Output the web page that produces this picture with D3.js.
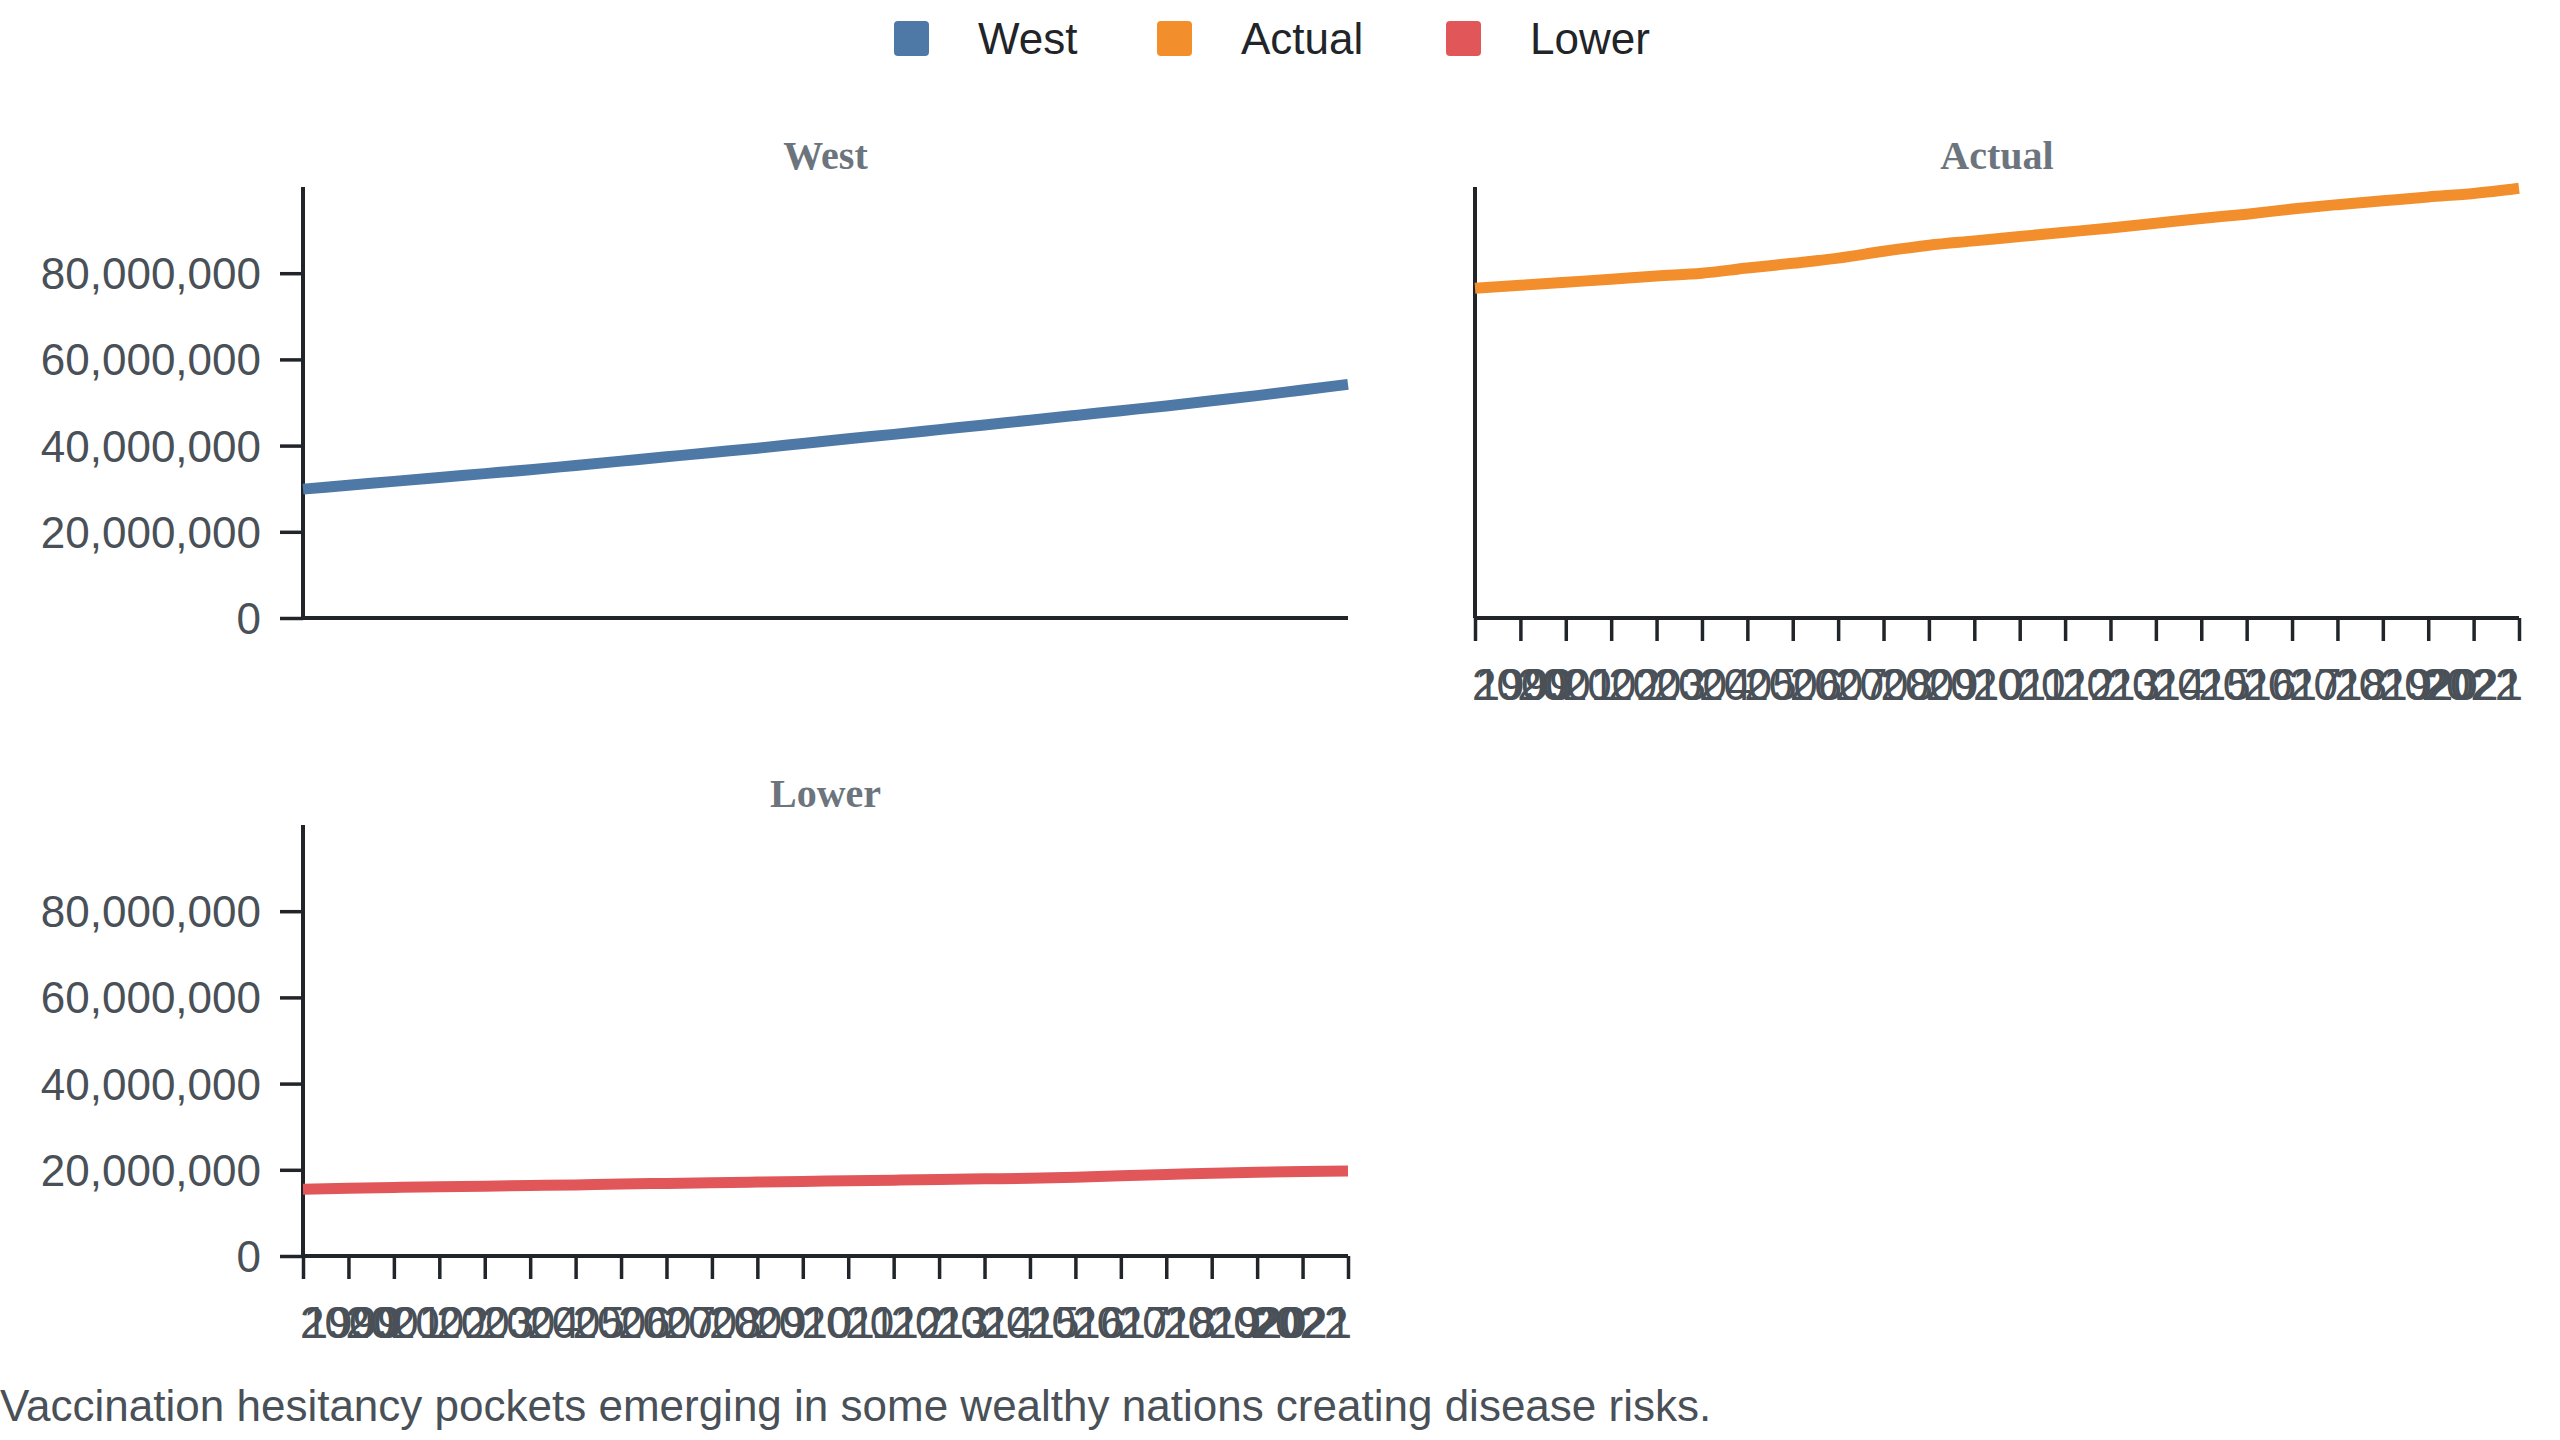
<!DOCTYPE html>
<html>
<head>
<meta charset="utf-8">
<script src="https://cdn.jsdelivr.net/npm/d3@7"></script>
<style>
  html, body { margin: 0; padding: 0; background: #fff; }
  svg { display: block; }
</style>
</head>
<body>
<div id="canvas"></div>
<script>
// chart data (values in people)
var years = [1999, 2000, 2001, 2002, 2003, 2004, 2005, 2006, 2007, 2008, 2009, 2010,
             2011, 2012, 2013, 2014, 2015, 2016, 2017, 2018, 2019, 2020, 2021, 2022];
var seriesNames = ['West', 'Actual', 'Lower'];
var seriesColors = ['#4e79a7', '#f28e2b', '#e15759'];
var westValues = [29.9, 30.8, 31.7, 32.6, 33.5, 34.4, 35.4, 36.4, 37.4, 38.4, 39.4, 40.5,
                  41.6, 42.6, 43.7, 44.8, 45.9, 47.0, 48.1, 49.2, 50.4, 51.6, 52.9, 54.2];
var actualValues = [76.5, 77.2, 77.9, 78.6, 79.35, 80.0, 81.2, 82.3, 83.5, 85.1, 86.5, 87.5,
                    88.5, 89.5, 90.5, 91.6, 92.7, 93.7, 94.9, 95.9, 96.8, 97.7, 98.5, 99.7];
var lowerValues = [15.5, 15.7, 15.9, 16.05, 16.2, 16.35, 16.5, 16.7, 16.85, 17.0, 17.15, 17.3,
                   17.45, 17.6, 17.75, 17.9, 18.05, 18.3, 18.6, 18.9, 19.2, 19.45, 19.6, 19.7];
var yTicks = [0, 20000000, 40000000, 60000000, 80000000];
var caption = 'Vaccination hesitancy pockets emerging in some wealthy nations creating disease risks.';

(function () {
  var width = 2560;
  var height = 1440;
  var axisColor = '#212529';
  var labelColor = '#495057';
  var titleColor = '#6c757d';

  var svg = d3.select('#canvas').append('svg')
        .attr('width', width)
        .attr('height', height);

  var toPeople = function (v) { return v * 1000000; };

  // one panel per series, wrapped two per row
  var panels = [
    { name: seriesNames[0], color: seriesColors[0], values: westValues.map(toPeople),
      x0: 303, x1: 1348, top: 187, bottom: 618, yLabels: true, xLabels: false },
    { name: seriesNames[1], color: seriesColors[1], values: actualValues.map(toPeople),
      x0: 1475, x1: 2519, top: 187, bottom: 618, yLabels: false, xLabels: true },
    { name: seriesNames[2], color: seriesColors[2], values: lowerValues.map(toPeople),
      x0: 303, x1: 1348, top: 825, bottom: 1256, yLabels: true, xLabels: true }
  ];

  var fmt = d3.format(',');

  panels.forEach(function (p) {
    var x = d3.scalePoint()
          .domain(years)
          .range([p.x0, p.x1]);

    var y = d3.scaleLinear()
          .domain([0, 100000000])
          .range([p.bottom, p.top]);

    var g = svg.append('g');

    // title
    g.append('text')
      .attr('x', (p.x0 + p.x1) / 2)
      .attr('y', p.top - 18)
      .attr('text-anchor', 'middle')
      .style('font-family', '"Liberation Serif", "Times New Roman", serif')
      .style('font-weight', 'bold')
      .style('font-size', '40px')
      .style('fill', titleColor)
      .text(p.name);

    // y axis
    var yAxis = g.append('g')
          .attr('transform', 'translate(' + p.x0 + ',0)')
          .call(d3.axisLeft(y)
                .tickValues(p.yLabels ? yTicks : [])
                .tickSize(23)
                .tickPadding(19)
                .tickFormat(fmt));
    yAxis.select('.domain')
      .attr('d', 'M0,' + p.top + 'V' + p.bottom)
      .attr('stroke', axisColor)
      .attr('stroke-width', 4);
    yAxis.selectAll('.tick line')
      .attr('stroke', axisColor)
      .attr('stroke-width', 3.5);
    yAxis.selectAll('.tick text')
      .attr('dy', '0.35em')
      .style('font-family', '"Liberation Sans", Arial, sans-serif')
      .style('font-size', '44px')
      .style('fill', labelColor);

    // x axis
    var xAxis = g.append('g')
          .attr('transform', 'translate(0,' + p.bottom + ')')
          .call(d3.axisBottom(x)
                .tickValues(p.xLabels ? years : [])
                .tickSize(23)
                .tickPadding(28));
    xAxis.select('.domain')
      .attr('d', 'M' + p.x0 + ',0H' + p.x1)
      .attr('stroke', axisColor)
      .attr('stroke-width', 4);
    xAxis.selectAll('.tick line')
      .attr('stroke', axisColor)
      .attr('stroke-width', 3.5);
    xAxis.selectAll('.tick text')
      .attr('dy', '0.71em')
      .attr('text-anchor', function (d, i) {
        // flush the first and last labels to the axis ends
        if (i === 0) return 'start';
        if (i === years.length - 1) return 'end';
        return 'middle';
      })
      .style('font-family', '"Liberation Sans", Arial, sans-serif')
      .style('font-size', '44px')
      .style('fill', labelColor);

    var line = d3.line()
          .x(function (d, i) { return x(years[i]); })
          .y(function (d) { return y(d); })
          .curve(d3.curveMonotoneX);

    g.append('path')
      .datum(p.values)
      .attr('d', line)
      .attr('fill', 'none')
      .attr('stroke', p.color)
      .attr('stroke-width', 11);
  });

  // legend
  var legendX = [894, 1157, 1446];
  var legend = svg.append('g').selectAll('.legend')
        .data(seriesNames)
        .enter()
        .append('g')
        .attr('class', 'legend')
        .attr('transform', function (d, i) {
          return 'translate(' + legendX[i] + ',21)';
        });

  legend.append('rect')
    .attr('width', 35)
    .attr('height', 35)
    .attr('rx', 4)
    .style('fill', function (d, i) { return seriesColors[i]; });

  legend.append('text')
    .attr('x', 84)
    .attr('y', 17.5)
    .attr('dy', '0.36em')
    .style('font-family', '"Liberation Sans", Arial, sans-serif')
    .style('font-size', '44px')
    .style('fill', '#212529')
    .text(function (d) { return d; });

  // caption
  svg.append('text')
    .attr('x', 0)
    .attr('y', 1421)
    .style('font-family', '"Liberation Sans", Arial, sans-serif')
    .style('font-size', '44px')
    .style('fill', labelColor)
    .text(caption);
})();
</script>
</body>
</html>
